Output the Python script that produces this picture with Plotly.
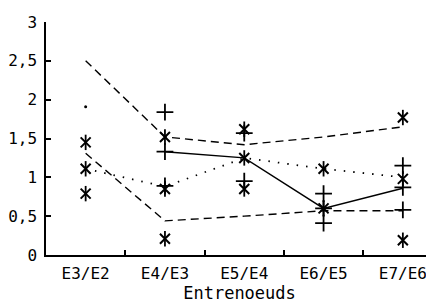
import plotly.graph_objects as go

categories = ["E3/E2", "E4/E3", "E5/E4", "E6/E5", "E7/E6"]

upper_dashed = [2.5, 1.52, 1.42, 1.52, 1.65]
lower_dashed = [1.31, 0.44, 0.50, 0.57, 0.57]
solid_line = [None, 1.33, 1.25, 0.60, 0.86]
dotted_line = [1.11, 0.88, 1.25, 1.11, 1.00]

star_x = ["E3/E2", "E3/E2", "E3/E2",
          "E4/E3", "E4/E3", "E4/E3",
          "E5/E4", "E5/E4", "E5/E4",
          "E6/E5", "E6/E5",
          "E7/E6", "E7/E6", "E7/E6"]
star_y = [1.45, 1.11, 0.79,
          1.52, 0.85, 0.21,
          1.62, 1.25, 0.85,
          1.11, 0.60,
          1.77, 0.98, 0.19]

plus_x = ["E4/E3", "E4/E3", "E4/E3",
          "E5/E4", "E5/E4",
          "E6/E5", "E6/E5", "E6/E5",
          "E7/E6", "E7/E6", "E7/E6"]
plus_y = [1.84, 1.33, 0.89,
          1.57, 0.95,
          0.79, 0.60, 0.41,
          1.15, 0.87, 0.58]

dot_x = ["E3/E2"]
dot_y = [1.91]

y_tickvals = [0, 0.5, 1, 1.5, 2, 2.5, 3]
y_ticktext = ["0", "0,5", "1", "1,5", "2", "2,5", "3"]

FONT = "DejaVu Sans Mono"
FS = 16
fig = go.Figure()

line_w = 1.4
fig.add_trace(go.Scatter(x=categories, y=upper_dashed, mode="lines",
                         line=dict(color="black", width=line_w, dash="8px,5px")))
fig.add_trace(go.Scatter(x=categories, y=lower_dashed, mode="lines",
                         line=dict(color="black", width=line_w, dash="8px,5px")))
fig.add_trace(go.Scatter(x=categories, y=solid_line, mode="lines",
                         line=dict(color="black", width=line_w)))
fig.add_trace(go.Scatter(x=categories, y=dotted_line, mode="lines",
                         line=dict(color="black", width=1.8, dash="1.5px,8px")))

# asterisk markers: x plus vertical bar
fig.add_trace(go.Scatter(x=star_x, y=star_y, mode="markers",
                         marker=dict(symbol="x-thin-open", size=10, color="black",
                                     line=dict(color="black", width=2))))
fig.add_trace(go.Scatter(x=star_x, y=star_y, mode="markers",
                         marker=dict(symbol="line-ns-open", size=11, color="black",
                                     line=dict(color="black", width=1.8))))
fig.add_trace(go.Scatter(x=plus_x, y=plus_y, mode="markers",
                         marker=dict(symbol="cross-thin-open", size=12, color="black",
                                     line=dict(color="black", width=1.8))))
fig.add_trace(go.Scatter(x=dot_x, y=dot_y, mode="markers",
                         marker=dict(symbol="circle", size=3, color="black")))

# page body has an 8px margin, so the figure is sized to fit the window from (8, 8)
fig.update_layout(
    width=426, height=297,
    margin=dict(l=38, r=1, t=14, b=50),
    paper_bgcolor="white", plot_bgcolor="white",
    showlegend=False,
    font=dict(family=FONT, size=FS, color="black"),
    xaxis=dict(
        type="category", categoryorder="array", categoryarray=categories,
        range=[-0.5, 4.38], showline=True, linecolor="black", linewidth=1.5,
        ticks="inside", ticklen=5, tickcolor="black", tickwidth=1.5,
        tickson="boundaries", showgrid=False, zeroline=False, automargin=False,
        title=dict(text="Entrenoeuds", standoff=5, font=dict(family=FONT, size=17)),
        tickfont=dict(family=FONT, size=FS),
        ticklabelstandoff=3,
    ),
    yaxis=dict(
        range=[0, 3], showline=True, linecolor="black", linewidth=1.5,
        ticks="inside", ticklen=5, tickcolor="black", tickwidth=1.5,
        tickvals=y_tickvals, ticktext=y_ticktext, automargin=False,
        showgrid=False, zeroline=False,
        tickfont=dict(family=FONT, size=FS),
        ticklabelstandoff=4,
    ),
)

fig.write_html("out.html")
